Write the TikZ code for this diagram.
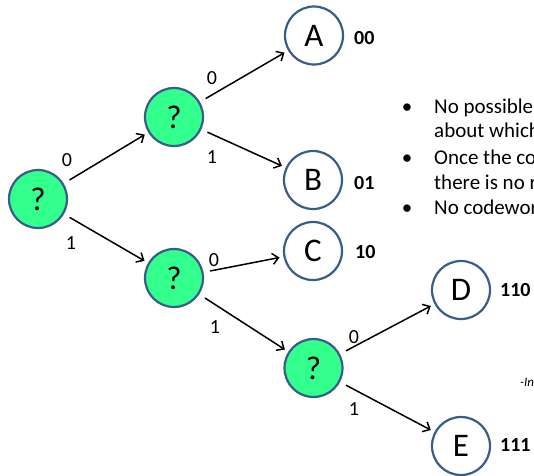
\documentclass[tikz,border=0pt]{standalone}
\usepackage{fontspec}
\setmainfont{Carlito}
\usetikzlibrary{arrows.meta}
\definecolor{qgreen}{RGB}{51,255,140}
\definecolor{qblue}{RGB}{56,93,138}

\begin{document}
\begin{tikzpicture}[line cap=round,line join=round,x=1pt,y=-1pt,
  >={Straight Barb[length=6pt,width=11pt]},
  qnode/.style={circle,draw=qblue,line width=2.2pt,fill=qgreen,minimum size=58pt,inner sep=0pt,font=\fontsize{33}{36}\selectfont},
  leaf/.style={qnode,fill=white},
  bit/.style={inner sep=0pt,font=\fontsize{20}{22}\selectfont},
  code/.style={anchor=west,inner sep=0pt,font=\fontsize{20}{22}\selectfont\bfseries},
  txt/.style={anchor=base west,inner sep=0pt,font=\fontsize{21}{25}\selectfont},
  dot/.style={anchor=base,inner sep=0pt,font=\fontsize{21}{25}\selectfont},
  edge/.style={->,line width=1.5pt,shorten <=7pt,shorten >=4pt}]
\useasboundingbox (0,0) rectangle (534,475);
\clip (0,0) rectangle (534,475);
% tree
\node[qnode] (root) at (38,199) {?};
\node[qnode] (q0) at (174,117) {?};
\node[qnode] (q1) at (174,278) {?};
\node[qnode] (q11) at (313.5,368) {?};
\node[leaf] (A) at (314,35.5) {A};
\node[leaf] (B) at (313,180) {B};
\node[leaf] (C) at (313,251) {C};
\node[leaf] (D) at (461,290) {D};
\node[leaf] (E) at (461,446) {E};
\draw[edge] (root) -- (q0);
\draw[edge] (root) -- (q1);
\draw[edge] (q0) -- (A);
\draw[edge] (q0) -- (B);
\draw[edge] (q1) -- (C);
\draw[edge] (q1) -- (q11);
\draw[edge] (q11) -- (D);
\draw[edge] (q11) -- (E);
% bits on the edges
\node[bit] (b1) at (67,160) {0};
\node[bit] (b2) at (71,243) {1};
\node[bit] (b3) at (212,78) {0};
\node[bit] (b4) at (212,157) {1};
\node[bit] (b5) at (214,260) {0};
\node[bit] (b6) at (215,327) {1};
\node[bit] (b7) at (354,337) {0};
\node[bit] (b8) at (354,409) {1};
% codewords
\node[code] (cA) at (354,38) {00};
\node[code] (cB) at (354,183) {01};
\node[code] (cC) at (355,251.5) {10};
\node[code] (cD) at (500,289.5) {110};
\node[code] (cE) at (500,444.5) {111};
% notes
\node[dot] (d1) at (407,113) {•};
\node[dot] (d2) at (407,164) {•};
\node[dot] (d3) at (407,214) {•};
\node[txt] (t1) at (434,113) {No possible};
\node[txt] (t2) at (434,137) {about which};
\node[txt] (t3) at (434,164) {Once the co};
\node[txt] (t4) at (434,189) {there is no r};
\node[txt] (t5) at (434,214) {No codewor};
\node[anchor=base west,inner sep=0pt,font=\fontsize{13}{15}\selectfont\itshape] (src) at (520,386) {-In};
\end{tikzpicture}
\end{document}
